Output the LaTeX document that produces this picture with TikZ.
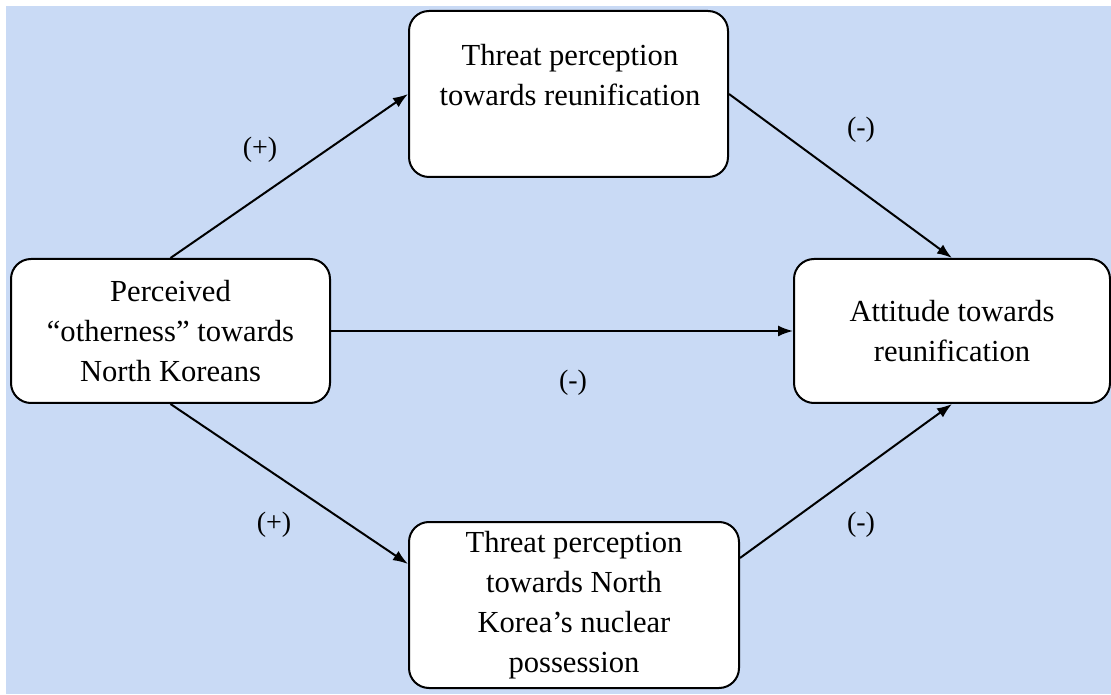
\documentclass[tikz,border=0pt]{standalone}
\usepackage{fontspec}
\setmainfont{Liberation Serif}
\usetikzlibrary{arrows.meta}
\definecolor{bgblue}{RGB}{201,218,245}
\begin{document}
\begin{tikzpicture}[x=1pt,y=1pt,
 box/.style={draw=black, fill=white, line width=2pt, rounded corners=20pt, inner sep=0pt, align=center, font=\fontsize{30.6}{40}\selectfont},
 boxtext/.style={inner sep=0pt, align=center, font=\fontsize{30.6}{40}\selectfont},
 conn/.style={line width=2pt, -{Latex[length=15pt,width=11pt]}},
 lbl/.style={font=\fontsize{28}{32}\selectfont, inner sep=0pt}]
\useasboundingbox (0,0) rectangle (1111,694);
\fill[bgblue] (6,0) rectangle (1111,688);
% boxes
\node[box, minimum width=319pt, minimum height=144pt] (left) at (170.5,363) {Perceived\\``otherness'' towards\\North Koreans};
\node[box, minimum width=316pt, minimum height=144pt] (right) at (952,363) {Attitude towards\\reunification};
\node[box, minimum width=319pt, minimum height=166pt] (top) at (568.5,600) {};
\node[boxtext] (toptext) at (570,619) {Threat perception\\towards reunification};
\node[box, minimum width=330pt, minimum height=166pt] (bot) at (574,89) {Threat perception\\towards North\\Korea’s nuclear\\possession};
% connectors
\draw[conn] (left.north) -- (top.west);
\draw[conn] (top.east) -- (right.north);
\draw[conn] (left.east) -- (right.west);
\draw[conn] (left.south) -- ([yshift=41pt]bot.west);
\draw[conn] ([yshift=47pt]bot.east) -- (right.south);
% labels
\node[lbl] (l1) at (260,544) {(+)};
\node[lbl] (l2) at (861,564) {(-)};
\node[lbl] (l3) at (573,311) {(-)};
\node[lbl] (l4) at (274,169) {(+)};
\node[lbl] (l5) at (861,169) {(-)};
\end{tikzpicture}
\end{document}
